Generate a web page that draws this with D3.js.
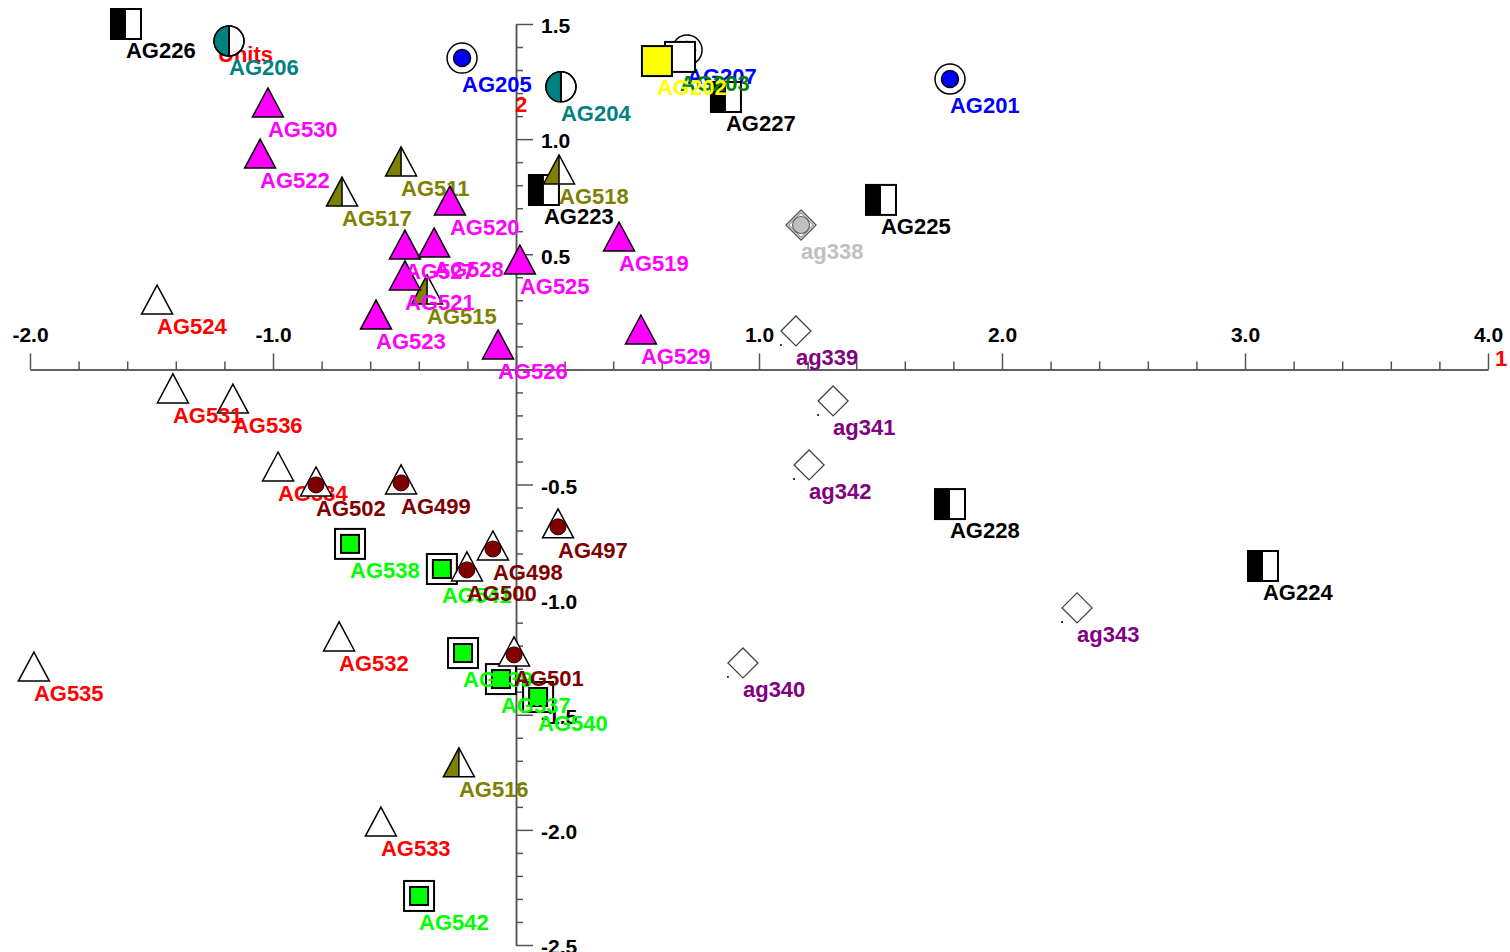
<!DOCTYPE html>
<html>
<head>
<meta charset="utf-8">
<script src="https://cdn.jsdelivr.net/npm/d3@7"></script>
<style>
  html, body { margin: 0; padding: 0; background: #ffffff; }
  svg { display: block; }
  text { font-family: "Liberation Sans", Arial, Helvetica, sans-serif; font-weight: bold; }
</style>
</head>
<body>
<svg id="chart" width="1510" height="952"></svg>
<script>
// Sample names
const samples = ["AG226","AG206","AG205","AG204","AG207","AG203","AG202","AG227","AG201","AG530",
  "AG522","AG511","AG517","AG518","AG223","AG520","AG225","ag338","AG519","AG527",
  "AG528","AG525","AG515","AG521","AG524","AG523","AG529","ag339","AG526","AG531",
  "AG536","ag341","ag342","AG534","AG502","AG499","AG228","AG497","AG538","AG498",
  "AG541","AG500","AG224","ag343","AG532","AG539","AG537","AG501","ag340","AG535",
  "AG540","AG516","AG533","AG542"];

// Ordination scores on axis 1
const axis1 = [-1.605,-1.181,-0.222,0.185,0.704,0.675,0.580,0.864,1.786,-1.021,
  -1.053,-0.473,-0.716,0.177,0.115,-0.272,1.502,1.173,0.424,-0.457,
  -0.337,0.016,-0.366,-0.457,-1.477,-0.576,0.514,1.152,-0.074,-1.412,
  -1.165,1.305,1.206,-0.979,-0.823,-0.473,1.786,0.173,-0.683,-0.095,
  -0.305,-0.202,3.074,2.309,-0.728,-0.218,-0.062,-0.008,0.934,-1.984,
  0.091,-0.235,-0.556,-0.399];

// Ordination scores on axis 2
const axis2 = [1.500,1.426,1.352,1.227,1.387,1.357,1.339,1.183,1.261,1.157,
  0.935,0.901,0.770,0.866,0.779,0.731,0.736,0.627,0.575,0.540,
  0.549,0.475,0.345,0.406,0.301,0.236,0.171,0.167,0.106,-0.085,
  -0.129,-0.137,-0.415,-0.424,-0.489,-0.480,-0.585,-0.671,-0.758,-0.767,
  -0.867,-0.858,-0.854,-1.036,-1.162,-1.232,-1.345,-1.227,-1.275,-1.293,
  -1.423,-1.709,-1.966,-2.287];

// Sample group of each sample
const groups = ["halfSquare","tealCircle","blueRing","tealCircle","blueRing","whiteSquare","yellowSquare","halfSquare","blueRing","magentaTri",
  "magentaTri","oliveTri","oliveTri","oliveTri","halfSquare","magentaTri","halfSquare","greyDiamond","magentaTri","magentaTri",
  "magentaTri","magentaTri","oliveTri","magentaTri","openTri","magentaTri","magentaTri","diamond","magentaTri","openTri",
  "openTri","diamond","diamond","openTri","dotTri","dotTri","halfSquare","dotTri","greenSquare","dotTri",
  "greenSquare","dotTri","halfSquare","diamond","openTri","greenSquare","greenSquare","dotTri","diamond","openTri",
  "greenSquare","oliveTri","openTri","greenSquare"];

// Groups are drawn one after another: all markers of a group, then its names
const groupOrder = ["blueRing","halfSquare","tealCircle","whiteSquare","yellowSquare","openTri",
  "oliveTri","magentaTri","greenSquare","dotTri","diamond","greyDiamond"];

// Axis ticks
const xMajorTicks = [-2, -1, 0, 1, 2, 3, 4];
const yMajorTicks = [1.5, 1.0, 0.5, 0, -0.5, -1.0, -1.5, -2.0, -2.5];

// Label colour per group
const labelColour = {
  halfSquare: "#000000", tealCircle: "#008080", blueRing: "#0000ff",
  yellowSquare: "#ffff00", whiteSquare: "#008000", magentaTri: "#ff00ff",
  oliveTri: "#808000", openTri: "#ff0000", dotTri: "#800000",
  greenSquare: "#00ff00", diamond: "#800080", greyDiamond: "#c0c0c0"
};

const svg = d3.select("#chart");
const x = d3.scaleLinear().domain([-2, 4]).range([30, 1488]);
const y = d3.scaleLinear().domain([-2.5, 1.5]).range([945, 24]);
const x0 = x(0), y0 = y(0);
const fmt = v => (Math.abs(v) < 1e-9 ? "" : v.toFixed(1));

// ---- horizontal axis (ticks point up, labels above)
const xMinor = d3.range(-2, 4.0001, 0.2).filter(v => Math.abs(v - Math.round(v)) > 1e-6);
const gx = svg.append("g").attr("transform", `translate(0,${y0})`).attr("color", "#555");
gx.call(d3.axisTop(x).tickValues(xMinor).tickSize(8).tickSizeOuter(0).tickFormat(""));
const gxM = svg.append("g").attr("transform", `translate(0,${y0})`).attr("color", "#555");
gxM.call(d3.axisTop(x).tickValues(xMajorTicks).tickSize(16).tickSizeOuter(0).tickPadding(11).tickFormat(fmt));
[gx, gxM].forEach(g => {
  g.attr("font-size", null).attr("font-family", null);
  g.selectAll("path.domain").attr("stroke-width", 1.5);
  g.selectAll(".tick line").attr("stroke-width", 1.5);
});
gxM.selectAll("text").attr("fill", "#000").style("font-size", "21px");

// ---- vertical axis (ticks point right, labels right)
const yMinor = d3.range(-2.5, 1.5001, 0.1).filter(v => Math.abs(v * 2 - Math.round(v * 2)) > 1e-6);
const gy = svg.append("g").attr("transform", `translate(${x0},0)`).attr("color", "#555");
gy.call(d3.axisRight(y).tickValues(yMinor).tickSize(7).tickSizeOuter(0).tickFormat(""));
const gyM = svg.append("g").attr("transform", `translate(${x0},0)`).attr("color", "#555");
gyM.call(d3.axisRight(y).tickValues(yMajorTicks).tickSize(17).tickSizeOuter(0).tickPadding(8).tickFormat(fmt));
[gy, gyM].forEach(g => {
  g.attr("font-size", null).attr("font-family", null);
  g.selectAll("path.domain").attr("stroke-width", 1.5);
  g.selectAll(".tick line").attr("stroke-width", 1.5);
});
gyM.selectAll("text").attr("fill", "#000").attr("dy", "0.42em").style("font-size", "21px");

// ---- axis titles
svg.append("text").attr("x", 1495).attr("y", y0 - 3).attr("fill", "#ff0000").style("font-size", "22px").text("1");
svg.append("text").attr("x", x0 - 1).attr("y", 112).attr("fill", "#ff0000").style("font-size", "22px").text("2");
svg.append("text").attr("x", 218).attr("y", 62).attr("fill", "#ff0000").style("font-size", "22px").text("Units");

// ---- marker symbols
const S = 15;
const triPath = `M0,${-S} L${S + 0.5},${S - 1} L${-S - 0.5},${S - 1} Z`;
const diamondPath = k => `M0,${-S * k} L${S * k},0 L0,${S * k} L${-S * k},0 Z`;

function drawMarker(g, type) {
  switch (type) {
    case "halfSquare":
      g.append("rect").attr("x", -S).attr("y", -S).attr("width", 2 * S).attr("height", 2 * S)
        .attr("fill", "#fff").attr("stroke", "#000").attr("stroke-width", 2);
      g.append("rect").attr("x", -S).attr("y", -S).attr("width", S).attr("height", 2 * S).attr("fill", "#000");
      break;
    case "tealCircle":
      g.append("circle").attr("r", S).attr("fill", "#fff").attr("stroke", "#000").attr("stroke-width", 1.5);
      g.append("path").attr("d", `M0,${-S} A${S},${S} 0 0 0 0,${S} Z`).attr("fill", "#008080");
      g.append("line").attr("x1", 0).attr("x2", 0).attr("y1", -S).attr("y2", S).attr("stroke", "#000").attr("stroke-width", 2);
      g.append("circle").attr("r", S).attr("fill", "none").attr("stroke", "#000").attr("stroke-width", 1.5);
      break;
    case "blueRing":
      g.append("circle").attr("r", S).attr("fill", "#fff").attr("stroke", "#000").attr("stroke-width", 1.5);
      g.append("circle").attr("r", 8.5).attr("fill", "#0000ff").attr("stroke", "#000").attr("stroke-width", 1.5);
      break;
    case "yellowSquare":
      g.append("rect").attr("x", -S).attr("y", -S).attr("width", 2 * S).attr("height", 2 * S)
        .attr("fill", "#ffff00").attr("stroke", "#000").attr("stroke-width", 2);
      break;
    case "whiteSquare":
      g.append("rect").attr("x", -S).attr("y", -S).attr("width", 2 * S).attr("height", 2 * S)
        .attr("fill", "#fff").attr("stroke", "#000").attr("stroke-width", 2);
      break;
    case "magentaTri":
      g.append("path").attr("d", triPath).attr("fill", "#ff00ff").attr("stroke", "#000").attr("stroke-width", 1.5);
      break;
    case "openTri":
      g.append("path").attr("d", triPath).attr("fill", "#fff").attr("stroke", "#000").attr("stroke-width", 1.5);
      break;
    case "oliveTri":
      g.append("path").attr("d", triPath).attr("fill", "#fff");
      g.append("path").attr("d", `M0,${-S} L0,${S - 1} L${-S - 0.5},${S - 1} Z`).attr("fill", "#808000");
      g.append("line").attr("x1", 0).attr("x2", 0).attr("y1", -S).attr("y2", S - 1).attr("stroke", "#000").attr("stroke-width", 1.5);
      g.append("path").attr("d", triPath).attr("fill", "none").attr("stroke", "#000").attr("stroke-width", 1.5);
      break;
    case "dotTri":
      g.append("path").attr("d", triPath).attr("fill", "#fff").attr("stroke", "#000").attr("stroke-width", 1.5);
      g.append("circle").attr("cy", 3).attr("r", 8).attr("fill", "#800000").attr("stroke", "#300000").attr("stroke-width", 1);
      break;
    case "greenSquare":
      g.append("rect").attr("x", -S).attr("y", -S).attr("width", 2 * S).attr("height", 2 * S)
        .attr("fill", "#fff").attr("stroke", "#000").attr("stroke-width", 2);
      g.append("rect").attr("x", -9).attr("y", -9).attr("width", 18).attr("height", 18)
        .attr("fill", "#00ff00").attr("stroke", "#000").attr("stroke-width", 2);
      break;
    case "diamond":
      g.append("path").attr("d", diamondPath(1)).attr("fill", "#fff").attr("stroke", "#444").attr("stroke-width", 1.3);
      g.append("circle").attr("cx", -S).attr("cy", S - 1).attr("r", 1).attr("fill", "#000");
      break;
    case "greyDiamond":
      g.append("path").attr("d", diamondPath(1)).attr("fill", "#fff").attr("stroke", "#555").attr("stroke-width", 1.3);
      g.append("path").attr("d", diamondPath(0.82)).attr("fill", "none").attr("stroke", "#999").attr("stroke-width", 1.2);
      g.append("circle").attr("r", 8.5).attr("fill", "#c0c0c0").attr("stroke", "#666").attr("stroke-width", 1.2);
      break;
  }
}

// ---- sample points, group by group: markers first, then the names below-right
const rows = samples.map((name, i) => ({ name, a1: axis1[i], a2: axis2[i], group: groups[i] }));
groupOrder.forEach(grp => {
  const members = rows.filter(r => r.group === grp);
  members.forEach(r => {
    const g = svg.append("g").attr("transform", `translate(${x(r.a1)},${y(r.a2)})`);
    drawMarker(g, grp);
  });
  members.forEach(r => {
    svg.append("text")
      .attr("x", x(r.a1))
      .attr("y", y(r.a2) + 34)
      .attr("fill", labelColour[grp])
      .style("font-size", "22px")
      .text(r.name);
  });
});
</script>
</body>
</html>
